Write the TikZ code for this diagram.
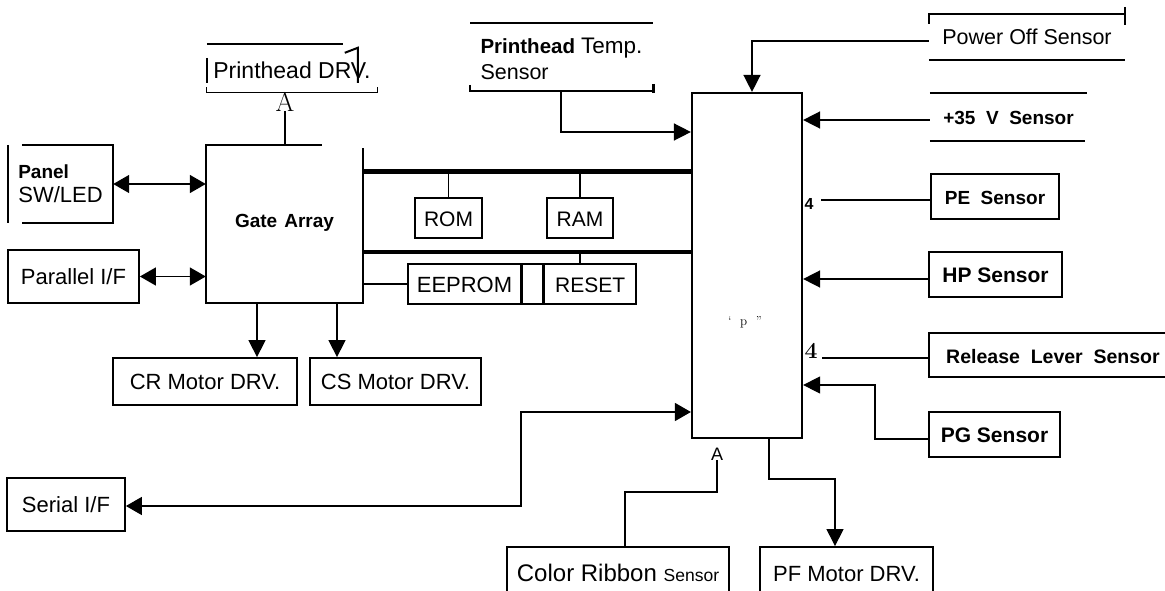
\documentclass[tikz,border=0pt]{standalone}
\usepackage{fontspec}
\newfontfamily\arial{Liberation Sans}
\usetikzlibrary{arrows.meta}
\newcommand\myfs[1]{\fontsize{#1}{#1}\selectfont}
\begin{document}
\begin{tikzpicture}[x=1pt,y=-1pt,
  every node/.style={font=\arial, text height=16pt, text depth=0pt, inner sep=0pt},
  box/.style={draw, line width=1.8pt},
  ln/.style={line width=1.5pt},
  thinln/.style={line width=1.1pt},
  arr/.style={-{Triangle[length=17pt,width=17pt]}},
  dblarr/.style={{Triangle[length=16pt,width=18pt]}-{Triangle[length=16pt,width=18pt]}}]
\useasboundingbox (0,0) rectangle (1165,591);

% ---------------- Gate array
\node[minimum width=157, minimum height=158] (gate) at (284.5,224) {\raisebox{5pt}{\myfs{19}\bfseries Gate\hspace{7pt}Array}};
\draw[box] ([xshift=116]gate.north west) -- (gate.north west) -- (gate.south west) -- (gate.south east) -- ([yshift=-3]gate.north east);

% ---------------- Printhead DRV.
\node[minimum width=170, minimum height=48] (phdrv) at (292,68) {\raisebox{-3pt}{\myfs{23}Printhead DRV.}};
\draw[ln] (phdrv.north west) -- ([xshift=136]phdrv.north west);
\draw[line width=2.5pt] ([yshift=-14]phdrv.north west) -- ([yshift=-39]phdrv.north west);
\draw[thinln] ([yshift=5]phdrv.south west) -- (phdrv.south west) -- (phdrv.south east) -- ([yshift=5]phdrv.south east);
\draw[line width=2pt] ([xshift=138,yshift=-9]phdrv.north west) -- ([xshift=151,yshift=-4]phdrv.north west) -- ([xshift=151,yshift=-39]phdrv.north west);
\node[font=\rmfamily\myfs{27}, text height=18.4pt] (phA) at (285,102) {A};
\draw[ln] (phA.south) -- (phA.south |- gate.north);

% ---------------- Panel SW/LED
\node[minimum width=105, minimum height=78, align=left, text height={}, text depth={},
      font=\arial\fontsize{22}{24}\selectfont] (panel) at (60.5,184)
  {{\myfs{19}\bfseries Panel}\\{\myfs{22}SW/LED}};
\draw[box] (panel.north west) -- (panel.south west);
\draw[box] ([xshift=14]panel.north west) -- (panel.north east) -- (panel.south east) -- ([xshift=14]panel.south west);
\draw[ln,dblarr] (panel.east) -- (panel.east -| gate.west);

% ---------------- Parallel I/F
\node[box, minimum width=131, minimum height=53] (par) at (73.5,276.5) {\myfs{22}Parallel I/F};
\draw[ln,dblarr] (par.east) -- (par.east -| gate.west);

% ---------------- Motor drivers
\node[box, minimum width=184, minimum height=47] (cr) at (205,381.5) {\myfs{22}CR Motor DRV.};
\node[box, minimum width=171, minimum height=47] (cs) at (395.5,381.5) {\myfs{22}CS Motor DRV.};
\coordinate (crx) at (257,0);
\coordinate (csx) at (337,0);
\draw[ln,arr] (crx |- gate.south) -- (crx |- cr.north);
\draw[ln,arr] (csx |- gate.south) -- (csx |- cs.north);

% ---------------- CPU
\node[box, line width=2.2pt, minimum width=110, minimum height=345] (cpu) at (747,265.5) {};
\node[font=\rmfamily\myfs{13}, text height=9pt] (cpulbl) at (745,321) {‘\ \ p\ \ ”};

% ---------------- Buses, memory
\coordinate (b1) at (0,172);
\coordinate (b2) at (0,252);
\draw[line width=5pt] (gate.east |- b1) -- (cpu.west |- b1);
\draw[line width=3.5pt] (gate.east |- b2) -- (cpu.west |- b2);
\node[box, minimum width=67, minimum height=40] (rom) at (448.5,218) {\myfs{21}ROM};
\node[box, minimum width=66, minimum height=40] (ram) at (580,218) {\myfs{21}RAM};
\draw[ln] (rom.north) -- (rom.north |- b1);
\draw[ln] (ram.north) -- (ram.north |- b1);
\node[box, minimum width=113, minimum height=40] (eep) at (464.5,284) {\myfs{22}EEPROM};
\node[box, line width=1.3pt, minimum width=20, minimum height=40, anchor=west] (gap) at (eep.east) {};
\node[box, minimum width=92, minimum height=40, anchor=west] (reset) at (gap.east) {\myfs{21}RESET};
\coordinate (rsx) at (580,0);
\draw[ln] (rsx |- reset.north) -- (rsx |- b2);
\draw[ln] (gate.east |- eep.west) -- (eep.west);

% ---------------- Printhead Temp. Sensor
\node[minimum width=183, minimum height=68, align=left, text height={}, text depth={},
      font=\arial\fontsize{22}{26}\selectfont] (pht) at (561.5,59)
  {{\myfs{20.5}\bfseries Printhead} {\myfs{22.5}Temp.}\\{\myfs{21.5}Sensor}};
\coordinate (phtl) at (470,23);
\coordinate (phtr) at (653,91);
\draw[ln] (phtl) -- (phtl -| phtr);
\draw[ln] ([yshift=6]phtl |- phtr) -- (phtl |- phtr) -- (phtr);
\draw[line width=3pt] ([yshift=7]phtr) -- ([yshift=-2]phtr);
\coordinate (tpy) at (561,132);
\draw[ln,arr] (tpy |- phtr) -- (tpy) -- (cpu.west |- tpy);

% ---------------- Power Off Sensor
\node[minimum width=196, minimum height=46] (pow) at (1027,37) {\myfs{21.5}Power Off Sensor};
\draw[ln] ([yshift=-10]pow.north west) -- (pow.north west) -- (pow.north east);
\draw[ln] ([yshift=7]pow.north east) -- ([yshift=-11]pow.north east);
\draw[line width=2.5pt] (pow.south west) -- (pow.south east);
\coordinate (pwx) at (752,41);
\draw[ln,arr] (pwx -| pow.west) -- (pwx) -- (pwx |- cpu.north);

% ---------------- +35 V Sensor
\node[minimum width=157, minimum height=48] (v35) at (1008.5,117) {\myfs{19}\bfseries +35\ \ V\ \ Sensor};
\draw[ln] (v35.north west) -- (v35.north east);
\draw[line width=2.5pt] (v35.south west) -- ([xshift=-2]v35.south east);
\coordinate (v35y) at (0,120);
\draw[ln,arr] (v35y -| v35.west) -- (v35y -| cpu.east);

% ---------------- PE Sensor
\node[box, minimum width=128, minimum height=45] (pe) at (995,196.5) {\myfs{19}\bfseries PE\ \ Sensor};
\node[font=\arial\bfseries\myfs{16}] (f1) at (809,201) {4};
\coordinate (pey) at (0,200);
\draw[ln, shorten >=7pt] (pey -| pe.west) -- (pey -| f1.east);

% ---------------- HP Sensor
\node[box, minimum width=133, minimum height=45] (hp) at (995.5,274.5) {\myfs{21}\bfseries HP Sensor};
\coordinate (hpy) at (0,279);
\draw[ln,arr] (hpy -| hp.west) -- (hpy -| cpu.east);

% ---------------- Release Lever Sensor
\node[minimum width=236, minimum height=44] (rel) at (1047,355) {\myfs{19.5}\bfseries\hspace*{12pt}Release\ \ Lever\ \ Sensor};
\draw[box] (rel.north east) -- (rel.north west) -- (rel.south west) -- (rel.south east);
\node[font=\rmfamily\bfseries\myfs{23}, text height=15.7pt] (f2) at (811,351) {4};
\coordinate (rly) at (0,358);
\draw[ln, shorten >=4pt] (rly -| rel.west) -- (rly -| f2.east);

% ---------------- PG Sensor
\node[box, minimum width=131, minimum height=45] (pg) at (994.5,434.5) {\myfs{21}\bfseries PG Sensor};
\coordinate (pg1) at (875,439);
\coordinate (pg2) at (875,385);
\draw[thinln,arr] (pg1 -| pg.west) -- (pg1) -- (pg2) -- (pg2 -| cpu.east);

% ---------------- Serial I/F
\node[box, minimum width=118, minimum height=53] (ser) at (66,504.5) {\myfs{22}Serial I/F};
\coordinate (sr) at (521,412);
\coordinate (sry) at (0,506);
\draw[ln,dblarr] (sry -| ser.east) -| (sr) -- (sr -| cpu.west);

% ---------------- Color Ribbon Sensor
\node[box, minimum width=222, minimum height=53] (crs) at (618,573.5) {{\myfs{24}Color Ribbon }{\myfs{17.5}Sensor}};
\node[font=\arial\myfs{18}] (ca) at (717,452) {A};
\coordinate (cr1) at (625,492);
\draw[thinln] (ca.south) |- (cr1) -- (cr1 |- crs.north);

% ---------------- PF Motor DRV.
\node[box, minimum width=173, minimum height=53] (pf) at (846.5,573.5) {\myfs{22}PF Motor DRV.};
\coordinate (pf1) at (769,479);
\coordinate (pf2) at (835,479);
\draw[thinln,arr] (pf1 |- cpu.south) -- (pf1) -- (pf2) -- (pf2 |- pf.north);
\end{tikzpicture}
\end{document}
